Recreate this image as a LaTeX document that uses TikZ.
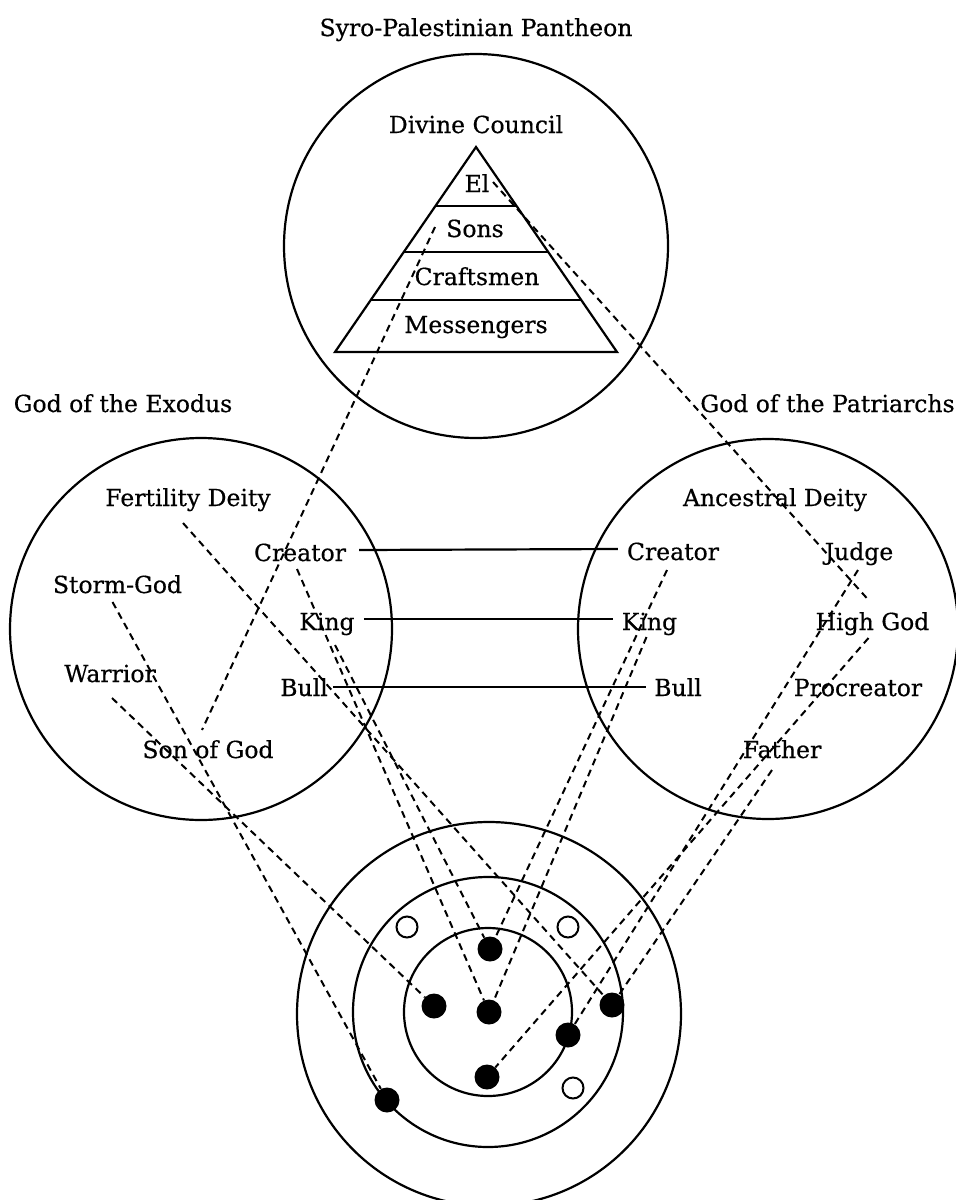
\documentclass[tikz,border=0pt]{standalone}
\usepackage{fontspec}
\setmainfont{DejaVu Serif}[FakeBold=0.5]
\usetikzlibrary{calc}
\begin{document}
\begin{tikzpicture}[x=1pt,y=-1pt,
  lbl/.style={inner sep=0pt, anchor=base, font=\fontsize{23.5}{28}\selectfont},
  ring/.style={circle, draw, line width=2.2pt, inner sep=0pt},
  dot/.style={circle, fill=black, inner sep=0pt, minimum size=25pt},
  hollow/.style={circle, draw, line width=2pt, fill=white, inner sep=0pt, minimum size=21pt},
  link/.style={line width=2pt, dash pattern=on 7pt off 5pt},
  tie/.style={line width=2.2pt}]
\useasboundingbox (0,0) rectangle (956,1200);

% the four circles
\node[ring, minimum size=384pt] (pantheon) at (476,246) {};
\node[ring, minimum size=382pt] (exodus) at (201,629) {};
\node[ring, minimum size=380pt] (patriarchs) at (768,629) {};
\node[ring, minimum size=384pt] (outer) at (489,1014) {};
\node[ring, minimum size=270pt] (middle) at (488,1012) {};
\node[ring, minimum size=168pt] (inner) at (488,1012) {};

% pyramid of the divine council
\draw[line width=2.2pt, line join=miter] (476,147) -- (617,352) -- (335,352) -- cycle;
\draw[line width=2.2pt] (435.4,206) -- (516.6,206);
\draw[line width=2.2pt] (403.8,252) -- (548.2,252);
\draw[line width=2.2pt] (370.8,300) -- (581.2,300);

% headings
\node[lbl] (tPantheon) at (476,36) {Syro-Palestinian Pantheon};
\node[lbl] (tCouncil) at (476,133) {Divine Council};
\node[lbl] (tExodus) at (123,412) {God of the Exodus};
\node[lbl] (tPatriarchs) at (827.5,412) {God of the Patriarchs};

% pyramid levels
\node[lbl] (el) at (477,192) {El};
\node[lbl] (sons) at (475,237) {Sons};
\node[lbl] (crafts) at (477,285) {Craftsmen};
\node[lbl] (messengers) at (476,333) {Messengers};

% god of the exodus
\node[lbl] (fertility) at (188,506) {Fertility Deity};
\node[lbl] (creatorL) at (300,561) {Creator};
\node[lbl] (storm) at (117.5,593) {Storm-God};
\node[lbl] (kingL) at (327,630) {King};
\node[lbl] (warrior) at (110,682) {Warrior};
\node[lbl] (bullL) at (304,696) {Bull};
\node[lbl] (songod) at (208,758) {Son of God};

% god of the patriarchs
\node[lbl] (ancestral) at (775,506) {Ancestral Deity};
\node[lbl] (creatorR) at (673,560) {Creator};
\node[lbl] (judge) at (859,560) {Judge};
\node[lbl] (kingR) at (649.5,630) {King};
\node[lbl] (highgod) at (872.5,630) {High God};
\node[lbl] (bullR) at (678,696) {Bull};
\node[lbl] (procreator) at (858,696) {Procreator};
\node[lbl] (father) at (782,758) {Father};

% dots inside the rings
\node[dot] (d1) at (490,949) {};
\node[dot] (d2) at (434,1006) {};
\node[dot] (d3) at (489,1012) {};
\node[dot] (d4) at (487,1077) {};
\node[dot] (d5) at (568,1035) {};
\node[dot] (d6) at (612,1005) {};
\node[dot] (d7) at (387,1100) {};
\node[hollow] (o1) at (407,927) {};
\node[hollow] (o2) at (568,927) {};
\node[hollow] (o3) at (573,1088) {};

% shared attributes
\draw[tie] ($(creatorL.base east)+(13,-11)$) -- ($(creatorR.base west)+(-9,-11)$);
\draw[tie] ($(kingL.base east)+(9,-11)$) -- ($(kingR.base west)+(-9,-11)$);
\draw[tie] ($(bullL.base east)+(5,-9)$) -- ($(bullR.base west)+(-8,-9)$);

% dashed correspondences
\draw[link] ($(sons.base)+(-40,-10)$) -- ($(songod.base)+(-6,-28)$);
\draw[link] ($(el.base)+(16,-10)$) -- ($(highgod.base)+(-4,-30)$);
\draw[link] ($(fertility.base)+(-5,17)$) -- (d6);
\draw[link] ($(storm.base)+(-5,9)$) -- (d7);
\draw[link] ($(warrior.base)+(2,16)$) -- (d2);
\draw[link] ($(creatorL.base)+(-3,8)$) -- (d3);
\draw[link] ($(kingL.base)+(8,15)$) -- (d1);
\draw[link] ($(creatorR.base)+(-6,10)$) -- (d1);
\draw[link] ($(kingR.base)+(-3,7)$) -- (d3);
\draw[link] ($(judge.base)+(-1,10)$) -- (d5);
\draw[link] ($(highgod.base)+(-4,8)$) -- (d4);
\draw[link] ($(father.base)+(-10,12)$) -- (d6);
\end{tikzpicture}
\end{document}
